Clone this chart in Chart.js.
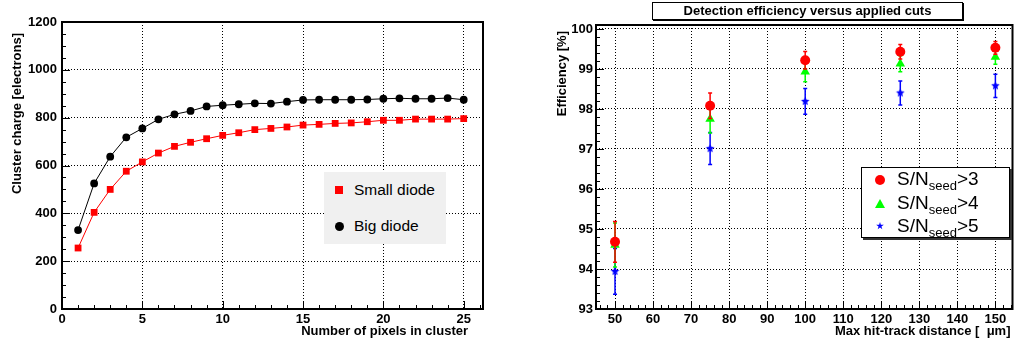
<!DOCTYPE html>
<html>
<head>
<meta charset="utf-8">
<script src="https://cdn.jsdelivr.net/npm/chart.js@4.4.1/dist/chart.umd.min.js"></script>
<style>
  body { margin: 0; background: #fff; font-family: "Liberation Sans", Arial, sans-serif; }
  #wrap { position: relative; width: 1018px; height: 341px; overflow: hidden; }
  canvas { position: absolute; top: 0; }
  .leg-left { position: absolute; left: 324px; top: 172px; width: 122px; height: 72px; background: #f0f0f0; }
  .leg-left .row { position: absolute; left: 30px; font-size: 15.5px; line-height: 18px; color: #000; }
  .leg-left .mk { position: absolute; left: 11px; }
  .title-right { position: absolute; left: 652px; top: 2px; width: 309px; height: 16px; border: 1px solid #000;
    box-shadow: 1px 1px 0 #000; background: #fff; font-weight: bold; font-size: 13px; line-height: 16px; text-align: center; }
  .leg-right { position: absolute; left: 861px; top: 167px; width: 147px; height: 69px; border: 1px solid #000;
    box-shadow: 2px 2px 0 #333; background: #fff; }
  .leg-right .row { position: absolute; left: 35px; font-size: 19px; line-height: 20px; color: #000; white-space: nowrap; }
  .leg-right sub { font-size: 13px; vertical-align: -5px; line-height: 0; }
  .leg-right .mk { position: absolute; }
</style>
</head>
<body>
<div id="wrap">
  <canvas id="left" width="509" height="341" style="left:0"></canvas>
  <canvas id="right" width="509" height="341" style="left:509px"></canvas>

  <div class="leg-left">
    <div class="mk" style="top:14px;width:8px;height:8px;background:#ff0000"></div>
    <div class="row" style="top:9px">Small diode</div>
    <div class="mk" style="top:50px;width:9px;height:9px;border-radius:50%;background:#000"></div>
    <div class="row" style="top:45px">Big diode</div>
  </div>

  <div class="title-right">Detection efficiency versus applied cuts</div>

  <div class="leg-right">
    <div class="mk" style="left:13px;top:7px;width:10px;height:10px;border-radius:50%;background:#ff0000"></div>
    <div class="row" style="top:1px">S/N<sub>seed</sub>&gt;3</div>
    <div class="mk" style="left:13px;top:31px;width:10px;height:9px;background:#00ff00;clip-path:polygon(50% 0,100% 100%,0 100%)"></div>
    <div class="row" style="top:25px">S/N<sub>seed</sub>&gt;4</div>
    <div class="mk" style="left:14px;top:54px;width:8px;height:8px;background:#0000ff;clip-path:polygon(50% 0,61% 35%,98% 35%,68% 57%,79% 91%,50% 70%,21% 91%,32% 57%,2% 35%,39% 35%)"></div>
    <div class="row" style="top:48px">S/N<sub>seed</sub>&gt;5</div>
  </div>
</div>

<script>
// left plot: cluster charge vs cluster size
const pixels = [1, 2, 3, 4, 5, 6, 7, 8, 9, 10, 11, 12, 13, 14, 15, 16, 17, 18, 19, 20, 21, 22, 23, 24, 25];
const smallDiode = [255, 404, 500, 576, 615, 652, 680, 697, 712, 726, 737, 750, 755, 761, 769, 772, 776, 778, 783, 789, 789, 794, 794, 794, 796];
const bigDiode = [330, 525, 637, 718, 755, 793, 814, 828, 847, 852, 856, 860, 859, 867, 874, 875, 875, 875, 876, 879, 881, 879, 879, 882, 875];
const pixelTicks = [0, 5, 10, 15, 20, 25];
const chargeTicks = [0, 200, 400, 600, 800, 1000, 1200];

// right plot: efficiency vs max hit-track distance
const distances = [50, 75, 100, 125, 150];
const effSN3 = [94.68, 98.08, 99.22, 99.43, 99.53];
const errSN3 = [0.51, 0.32, 0.22, 0.18, 0.16];
const effSN4 = [94.60, 97.75, 98.93, 99.13, 99.30];
const errSN4 = [0.55, 0.35, 0.25, 0.20, 0.18];
const effSN5 = [93.94, 97.01, 98.19, 98.40, 98.58];
const errSN5 = [0.57, 0.40, 0.32, 0.30, 0.29];
const distanceTicks = [50, 60, 70, 80, 90, 100, 110, 120, 130, 140, 150];
const effTicks = [93, 94, 95, 96, 97, 98, 99, 100];

const FONT = '"Liberation Sans", Arial, sans-serif';
Chart.defaults.font.family = FONT;
Chart.defaults.font.size = 13;
Chart.defaults.font.weight = 'bold';
Chart.defaults.color = '#000';

const near = (v, step) => Math.abs(v / step - Math.round(v / step)) < 1e-6;

// ROOT style frame with ticks pointing inwards
const frameTicks = {
  id: 'frameTicks',
  afterDraw(chart, args, opts) {
    const { ctx, chartArea: a, scales: { x, y } } = chart;
    ctx.save();
    ctx.strokeStyle = '#000';
    ctx.lineWidth = 1;
    ctx.beginPath();
    for (let i = Math.ceil(x.min / opts.xMinor); i * opts.xMinor <= x.max + 1e-9; i++) {
      const v = i * opts.xMinor;
      const px = Math.round(x.getPixelForValue(v)) + 0.5;
      ctx.moveTo(px, a.bottom);
      ctx.lineTo(px, a.bottom - (near(v, opts.xMajor) ? 8 : 4));
    }
    for (let i = Math.ceil(y.min / opts.yMinor); i * opts.yMinor <= y.max + 1e-9; i++) {
      const v = i * opts.yMinor;
      const py = Math.round(y.getPixelForValue(v)) + 0.5;
      ctx.moveTo(a.left, py);
      ctx.lineTo(a.left + (near(v, opts.yMajor) ? 8 : 4), py);
    }
    ctx.stroke();
    ctx.lineWidth = 2;
    ctx.strokeRect(a.left, a.top, a.width, a.height);
    ctx.restore();
  }
};

// axis titles placed like ROOT does: right end of x axis, top end of y axis
const axisTitles = {
  id: 'axisTitles',
  afterDraw(chart, args, o) {
    const { ctx, chartArea: a } = chart;
    ctx.save();
    ctx.font = 'bold 13px ' + FONT;
    ctx.fillStyle = '#000';
    ctx.textBaseline = 'middle';
    ctx.textAlign = 'right';
    ctx.fillText(o.x, a.right - o.xEnd, o.xY);
    ctx.translate(o.yX, a.top + o.yEnd);
    ctx.rotate(-Math.PI / 2);
    ctx.fillText(o.y, 0, 0);
    ctx.restore();
  }
};

// vertical error bars drawn just before each dataset's markers
const errorBars = {
  id: 'errorBars',
  beforeDatasetDraw(chart, args) {
    const ds = chart.data.datasets[args.index];
    if (!ds.errors) return;
    const { ctx, scales: { x, y } } = chart;
    ctx.save();
    ctx.strokeStyle = ds.borderColor;
    ctx.lineWidth = 1.5;
    ds.data.forEach((p, i) => {
      const px = x.getPixelForValue(p.x);
      const top = y.getPixelForValue(p.y + ds.errors[i]);
      const bot = y.getPixelForValue(p.y - ds.errors[i]);
      ctx.beginPath();
      ctx.moveTo(px, top); ctx.lineTo(px, bot);
      ctx.moveTo(px - 2, top); ctx.lineTo(px + 2, top);
      ctx.moveTo(px - 2, bot); ctx.lineTo(px + 2, bot);
      ctx.stroke();
    });
    ctx.restore();
  }
};

function starImage(r, color) {
  const c = document.createElement('canvas');
  const s = Math.ceil(r * 2) + 2;
  c.width = c.height = s;
  const g = c.getContext('2d');
  g.fillStyle = color;
  g.beginPath();
  for (let i = 0; i < 10; i++) {
    const ang = -Math.PI / 2 + i * Math.PI / 5;
    const rr = i % 2 ? r * 0.45 : r;
    g.lineTo(s / 2 + rr * Math.cos(ang), s / 2 + rr * Math.sin(ang));
  }
  g.closePath();
  g.fill();
  return c;
}

const useTicks = values => scale => {
  scale.ticks = values.map(v => ({ value: v }));
};
const label = v => String(v);
const gridStyle = { color: '#000', lineWidth: 1, drawTicks: false };
const dotted = { display: false, dash: [1, 2] };

const toPoints = (xs, ys) => xs.map((x, i) => ({ x: x, y: ys[i] }));

new Chart(document.getElementById('left'), {
  type: 'scatter',
  data: {
    datasets: [{
      label: 'Small diode',
      data: toPoints(pixels, smallDiode),
      showLine: true,
      borderColor: '#ff0000',
      backgroundColor: '#ff0000',
      borderWidth: 1,
      pointStyle: 'rect',
      pointRadius: 4.8,
      pointBorderWidth: 0
    }, {
      label: 'Big diode',
      data: toPoints(pixels, bigDiode),
      showLine: true,
      borderColor: '#000',
      backgroundColor: '#000',
      borderWidth: 1,
      pointStyle: 'circle',
      pointRadius: 3.9,
      pointBorderWidth: 0
    }]
  },
  options: {
    responsive: false,
    devicePixelRatio: 1,
    animation: false,
    layout: { padding: { left: 3, top: 22, right: 26, bottom: 2 } },
    plugins: {
      legend: { display: false },
      tooltip: { enabled: false },
      frameTicks: { xMinor: 1, xMajor: 5, yMinor: 50, yMajor: 200 },
      axisTitles: { x: 'Number of pixels in cluster', xEnd: 15, xY: 331,
                    y: 'Cluster charge [electrons]', yX: 17, yEnd: 11 }
    },
    scales: {
      x: {
        type: 'linear', min: 0, max: 26.2,
        afterBuildTicks: useTicks(pixelTicks),
        afterFit: s => { s.height = 30; },
        grid: gridStyle, border: dotted,
        ticks: { padding: 3, maxRotation: 0, autoSkip: false, callback: label }
      },
      y: {
        min: 0, max: 1200,
        afterBuildTicks: useTicks(chargeTicks),
        afterFit: s => { s.width = 59; },
        grid: gridStyle, border: dotted,
        ticks: { padding: 5, autoSkip: false, callback: label }
      }
    }
  },
  plugins: [frameTicks, axisTitles]
});

new Chart(document.getElementById('right'), {
  type: 'scatter',
  data: {
    datasets: [{
      label: 'S/N seed > 3',
      data: toPoints(distances, effSN3),
      errors: errSN3,
      borderColor: '#ff0000',
      backgroundColor: '#ff0000',
      pointStyle: 'circle',
      pointRadius: 5,
      pointBorderWidth: 0
    }, {
      label: 'S/N seed > 4',
      data: toPoints(distances, effSN4),
      errors: errSN4,
      borderColor: '#00ff00',
      backgroundColor: '#00ff00',
      pointStyle: 'triangle',
      pointRadius: 5.5,
      pointBorderWidth: 0
    }, {
      label: 'S/N seed > 5',
      data: toPoints(distances, effSN5),
      errors: errSN5,
      borderColor: '#0000ff',
      backgroundColor: '#0000ff',
      pointStyle: starImage(4.5, '#0000ff'),
      pointRadius: 4.5,
      pointBorderWidth: 0
    }]
  },
  options: {
    responsive: false,
    devicePixelRatio: 1,
    animation: false,
    layout: { padding: { left: 43, top: 25, right: 1, bottom: 2 } },
    plugins: {
      legend: { display: false },
      tooltip: { enabled: false },
      frameTicks: { xMinor: 2, xMajor: 10, yMinor: 0.2, yMajor: 1 },
      axisTitles: { x: 'Max hit-track distance [  μm]', xEnd: 2, xY: 331,
                    y: 'Efficiency [%]', yX: 53, yEnd: 6 }
    },
    scales: {
      x: {
        type: 'linear', min: 45, max: 154.5,
        afterBuildTicks: useTicks(distanceTicks),
        afterFit: s => { s.height = 30; },
        grid: gridStyle, border: dotted,
        ticks: { padding: 3, maxRotation: 0, autoSkip: false, callback: label }
      },
      y: {
        min: 93, max: 100.1,
        afterBuildTicks: useTicks(effTicks),
        afterFit: s => { s.width = 44; },
        grid: gridStyle, border: dotted,
        ticks: { padding: 3, autoSkip: false, callback: label }
      }
    }
  },
  plugins: [frameTicks, axisTitles, errorBars]
});
</script>
</body>
</html>
